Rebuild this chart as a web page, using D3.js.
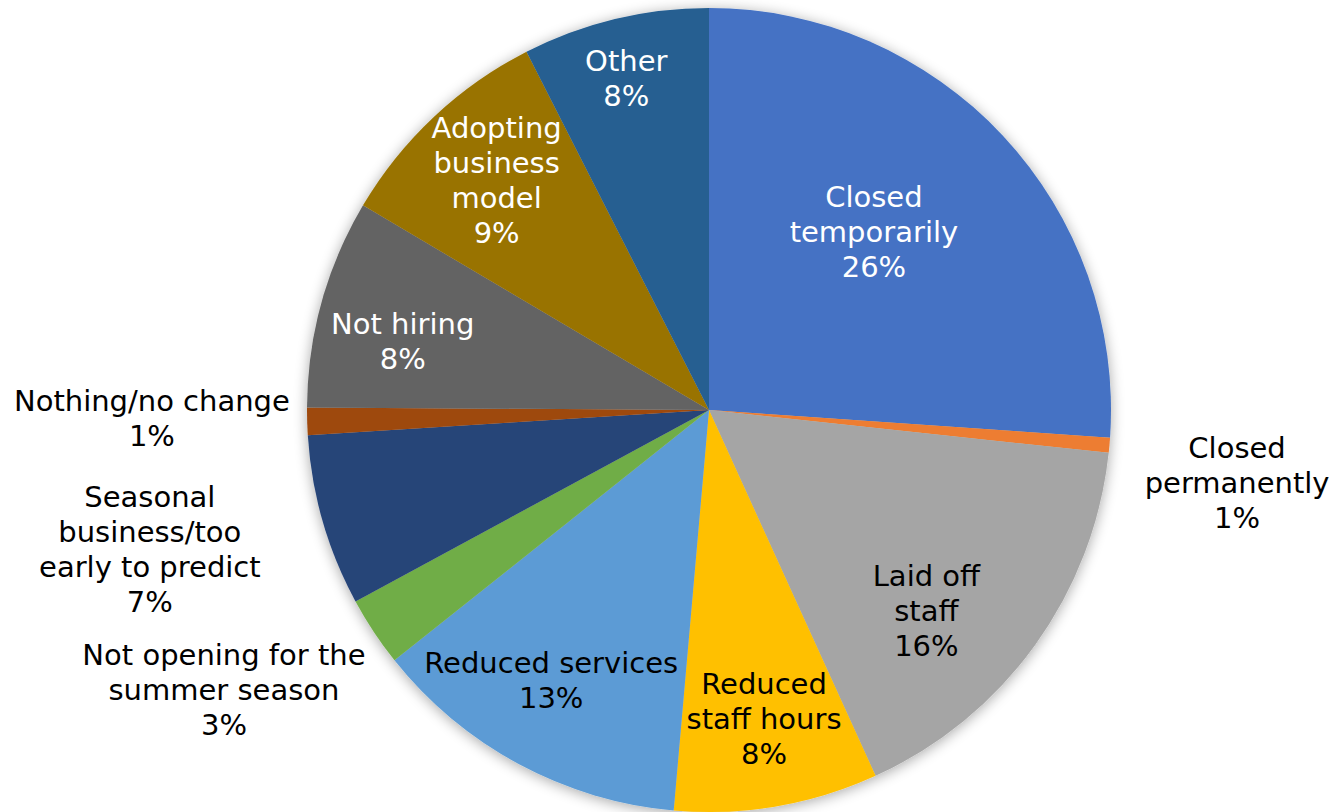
<!DOCTYPE html>
<html>
<head>
<meta charset="utf-8">
<script src="https://cdn.jsdelivr.net/npm/d3@7"></script>
<style>
  body { margin:0; background:#fff; }
  svg { display:block; }
  .lbl { font-family:"DejaVu Sans", Verdana, sans-serif; font-size:29px; }
</style>
</head>
<body>
<svg id="pie"></svg>
<script>
// slices, clockwise from 12 o'clock
var categories = ["Closed temporarily","Closed permanently","Laid off staff","Reduced staff hours",
  "Reduced services","Not opening for the summer season","Seasonal business/too early to predict",
  "Nothing/no change","Not hiring","Adopting business model","Other"]
var values = [26.1,0.6,16.5,8.2,12.9,2.8,6.9,1.1,8.4,9.0,7.5]
var pctLabels = ["26%","1%","16%","8%","13%","3%","7%","1%","8%","9%","8%"]
// how the label text wraps
var labelLines = [
  ["Closed","temporarily"],
  ["Closed","permanently"],
  ["Laid off","staff"],
  ["Reduced","staff hours"],
  ["Reduced services"],
  ["Not opening for the","summer season"],
  ["Seasonal","business/too","early to predict"],
  ["Nothing/no change"],
  ["Not hiring"],
  ["Adopting","business","model"],
  ["Other"]
]
var colors = ["#4472C4","#ED7D31","#A5A5A5","#FFC000","#5B9BD5","#70AD47","#264478","#9E480E","#636363","#997300","#255E91"]
var textColors = ["#fff","#000","#000","#000","#000","#000","#000","#000","#fff","#fff","#fff"]

// label placement: radius as a fraction of pie radius, angle shift from slice middle (deg)
var labelRadius = [0.604,1.326,0.736,0.779,0.779,1.393,1.433,1.386,0.781,0.779,0.851]
var labelShift = [-4.2,2.8,6.9,-0.4,2.0,3.5,2.1,0.8,-2.8,0.5,-0.5]

var screen = {width:1329,height:812}
var center = {x:709,y:410}
var radius = 402
var lineH = 35

var svg = d3.select("#pie")
  .attr("width",screen.width)
  .attr("height",screen.height)

var defs = svg.append("defs")
var filter = defs.append("filter").attr("id","shadow")
  .attr("x","-10%").attr("y","-10%").attr("width","120%").attr("height","120%")
filter.append("feGaussianBlur").attr("in","SourceAlpha").attr("stdDeviation",7).attr("result","blur")
filter.append("feOffset").attr("in","blur").attr("dx",0).attr("dy",2).attr("result","off")
filter.append("feComponentTransfer").attr("in","off").attr("result","sh")
  .append("feFuncA").attr("type","linear").attr("slope",0.35)
var merge = filter.append("feMerge")
merge.append("feMergeNode").attr("in","sh")
merge.append("feMergeNode").attr("in","SourceGraphic")

var slices = categories.map(function(c,i){
  return {name:c, value:values[i], i:i}
})

var pie = d3.pie()
  .sort(null)
  .value(function(d){ return d.value })

var arc = d3.arc()
  .innerRadius(0)
  .outerRadius(radius)

var arcs = pie(slices)

var g = svg.append("g")
  .attr("transform","translate("+center.x+","+center.y+")")

g.append("g")
  .attr("filter","url(#shadow)")
  .selectAll("path")
  .data(arcs)
  .enter()
  .append("path")
  .attr("d",arc)
  .attr("fill",function(d){ return colors[d.data.i] })

var labels = g.selectAll("text.lbl")
  .data(arcs)
  .enter()
  .append("text")
  .classed("lbl",true)
  .attr("text-anchor","middle")
  .attr("fill",function(d){ return textColors[d.data.i] })
  .attr("transform",function(d){
    var i = d.data.i
    var a = (d.startAngle+d.endAngle)/2 + labelShift[i]*Math.PI/180
    var r = radius*labelRadius[i]
    return "translate("+(r*Math.sin(a))+","+(-r*Math.cos(a))+")"
  })

labels.each(function(d){
  var i = d.data.i
  var lines = labelLines[i].concat([pctLabels[i]])
  var top = -(lines.length-1)*lineH/2
  var t = d3.select(this)
  lines.forEach(function(l,k){
    t.append("tspan")
      .attr("x",0)
      .attr("y",top+k*lineH)
      .attr("dy","0.36em")
      .text(l)
  })
})
</script>
</body>
</html>
